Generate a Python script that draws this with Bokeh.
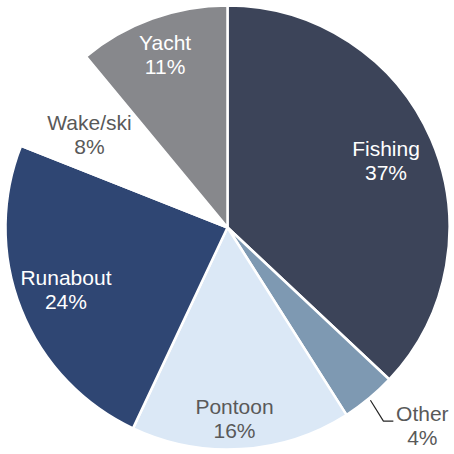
import math
from bokeh.plotting import figure
from bokeh.models import Range1d, ColumnDataSource
from bokeh.core.properties import value
from bokeh.embed import file_html
from bokeh.resources import INLINE

# ---- data ----
categories = ["Fishing", "Other", "Pontoon", "Runabout", "Wake/ski", "Yacht"]
shares = [37, 4, 16, 24, 8, 11]

# ---- styles ----
colors = ["#3C4459", "#7E99B2", "#DBE8F6", "#2F4673", "#FFFFFF", "#87888C"]
text_colors = ["#FFFFFF", "#595959", "#595959", "#FFFFFF", "#595959", "#FFFFFF"]
label_radius = [0.775, 1.25, 0.86, 0.78, 0.75, 0.83]
label_angle_tweak = [0.5, -5.0, 1.5, 0.5, -2.0, 0.0]  # degrees, clockwise

R = 222.0
W = H = 454
half = W / 2.0

p = figure(width=W, height=H, output_backend="svg", toolbar_location=None,
           x_range=Range1d(-half, half), y_range=Range1d(-half, half),
           min_border=0)
p.axis.visible = False
p.grid.visible = False
p.outline_line_color = None
p.background_fill_color = "white"
p.border_fill_color = "white"

total = float(sum(shares))
starts, ends, lx, ly, names, pcts = [], [], [], [], [], []
cum = 0.0
for i, v in enumerate(shares):
    a0 = cum / total * 2 * math.pi
    cum += v
    a1 = cum / total * 2 * math.pi
    starts.append(math.pi / 2 - a0)
    ends.append(math.pi / 2 - a1)
    mid = (a0 + a1) / 2 + math.radians(label_angle_tweak[i])
    r = label_radius[i] * R
    lx.append(r * math.sin(mid))
    ly.append(r * math.cos(mid))
    names.append(categories[i])
    pcts.append(f"{v}%")

src = ColumnDataSource(dict(start=starts, end=ends, color=colors,
                            lx=lx, ly=ly, name=names, pct=pcts, tc=text_colors))

p.wedge(x=0, y=0, radius=R, start_angle="start", end_angle="end",
        direction="clock", fill_color="color", line_color="white",
        line_width=2.5, source=src)

# leader line for "Other"
oi = categories.index("Other")
a_mid = (sum(shares[:oi]) + shares[oi] / 2) / total * 2 * math.pi
sx = 1.01 * R * math.sin(a_mid)
sy = 1.01 * R * math.cos(a_mid)
ey = ly[oi] + 4
ex = lx[oi] - 29
p.line(x=[sx, sx + 13, ex], y=[sy, ey, ey], line_color="#262626", line_width=1.2)

p.text(x="lx", y="ly", text="name", text_color="tc", source=src,
       text_font=value("Liberation Sans"), text_font_size="21px",
       text_align="center", text_baseline="middle", y_offset=-12)
p.text(x="lx", y="ly", text="pct", text_color="tc", source=src,
       text_font=value("Liberation Sans"), text_font_size="21px",
       text_align="center", text_baseline="middle", y_offset=12)

open("out.html", "w").write(file_html(p, INLINE))
